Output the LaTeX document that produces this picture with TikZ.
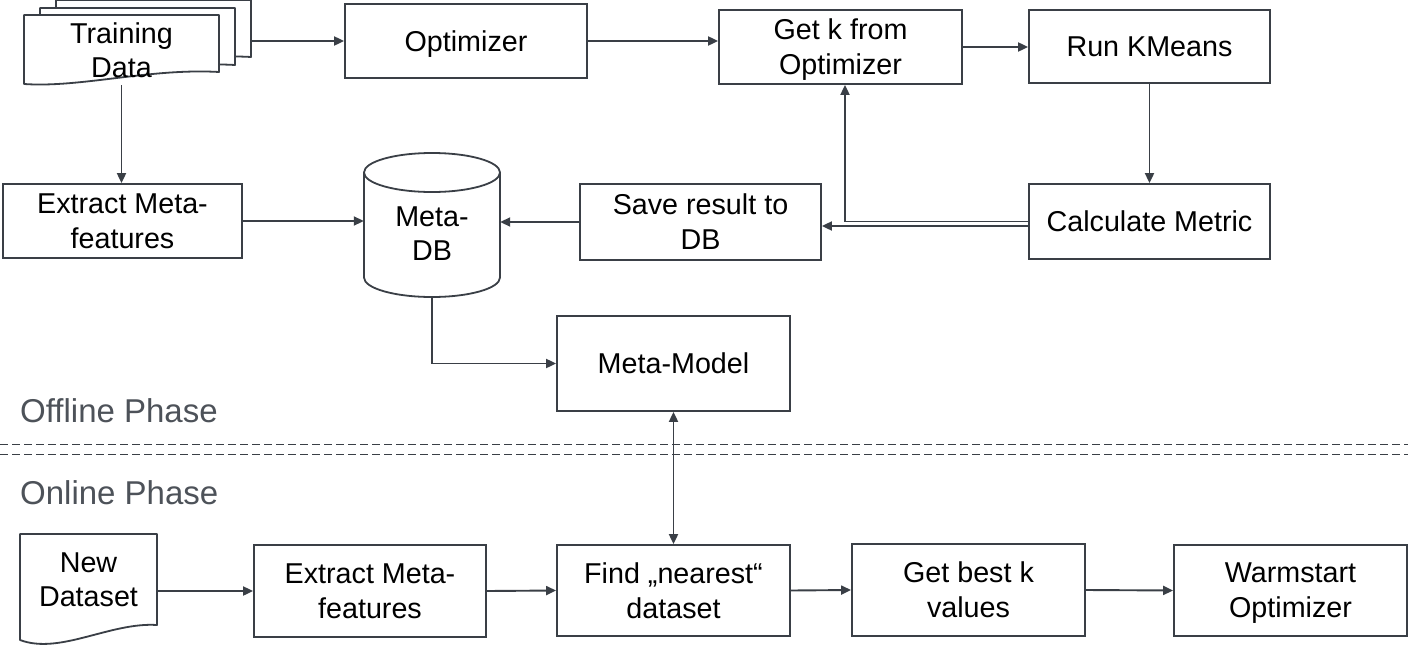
\documentclass[tikz,border=0pt]{standalone}
\usepackage{fontspec}
\setmainfont{Liberation Sans}
\usetikzlibrary{arrows.meta,calc}
\definecolor{ln}{RGB}{58,63,70}
\definecolor{ph}{RGB}{77,82,89}
\begin{document}
\begin{tikzpicture}[x=1pt,y=-1pt,
  box/.style={draw=ln, line width=1.8pt, fill=white, align=center, inner sep=0pt, text depth=0pt,
    font=\fontsize{28.7pt}{35pt}\selectfont},
  lbl/.style={align=center, inner sep=0pt, text depth=0pt, font=\fontsize{28.7pt}{34pt}\selectfont},
  phase/.style={anchor=west, inner sep=0pt, text=ph, font=\fontsize{33pt}{38pt}\selectfont},
  arr/.style={draw=ln, line width=1.9pt, -{Triangle[length=10pt,width=9pt]}},
  dblarr/.style={draw=ln, line width=1.9pt, {Triangle[length=10pt,width=9pt]}-{Triangle[length=10pt,width=9pt]}},
  docshape/.style={draw=ln, line width=1.8pt, fill=white, line join=round},
  sep/.style={draw=ln, line width=1.5pt, dash pattern=on 8pt off 4pt},
]
\useasboundingbox (0,0) rectangle (1408,648);
\fill[white] (0,0) rectangle (1408,648);

% Training data (multi-document)
\foreach \dx/\dy in {32/-15,16/-7,0/0}{
  \path[docshape, shift={(\dx,\dy)}] (24,15) -- (219,15) -- (219,72)
    .. controls (150,68) and (80,88) .. (24,84) -- cycle;
}
\node[lbl, minimum width=195pt, minimum height=70pt] (td) at (121.5,50) {Training\\Data};
\coordinate (tdr) at (251,41);

% New dataset (document)
\path[docshape] (20,534) -- (157,534) -- (157,625)
  .. controls (110,622) and (60,655) .. (20,640) -- cycle;
\node[lbl, minimum width=137pt, minimum height=90pt] (nd) at (88.5,580) {New\\Dataset};

% Meta-DB cylinder
\path[docshape] (364,172.5) -- (364,277.5)
  arc[start angle=180, end angle=360, x radius=68pt, y radius=19.5pt]
  -- (500,172.5)
  arc[start angle=0, end angle=180, x radius=68pt, y radius=19.5pt] -- cycle;
\draw[draw=ln, line width=1.8pt] (364,172.5)
  arc[start angle=180, end angle=360, x radius=68pt, y radius=19.5pt];
\node[lbl, minimum width=136pt, minimum height=126pt] (db) at (432,234) {Meta-\\DB};

% Boxes
\node[box, minimum width=242pt, minimum height=74pt] (opt) at (466,41) {Optimizer};
\node[box, minimum width=243pt, minimum height=74pt] (gk) at (840.5,47) {Get k from\\Optimizer};
\node[box, minimum width=241pt, minimum height=73pt] (rk) at (1149.5,46.5) {Run KMeans};
\node[box, minimum width=241pt, minimum height=75pt] (cm) at (1149.5,221.5) {Calculate Metric};
\node[box, minimum width=241pt, minimum height=76pt] (sr) at (700.5,222) {Save result to\\DB};
\node[box, minimum width=239pt, minimum height=74pt] (ex1) at (122.5,221) {Extract Meta-\\features};
\node[box, minimum width=233pt, minimum height=95pt] (mm) at (673.5,363.5) {Meta-Model};
\node[box, minimum width=232pt, minimum height=92pt] (ex2) at (370,591) {Extract Meta-\\features};
\node[box, minimum width=233pt, minimum height=91pt] (fn) at (673.5,590.5) {Find „nearest“\\dataset};
\node[box, minimum width=233pt, minimum height=92pt] (gb) at (968.5,590) {Get best k\\values};
\node[box, minimum width=233pt, minimum height=91pt] (wo) at (1290.5,590.5) {Warmstart\\Optimizer};

% Phase labels and separator
\node[phase] (off) at (20,411) {Offline Phase};
\node[phase] (on) at (20,493) {Online Phase};
\draw[sep] (0,444.5) -- (1408,444.5);
\draw[sep] (0,454.5) -- (1408,454.5);

% Connectors
\draw[arr] (tdr) -- (tdr -| opt.west);
\draw[arr] (opt.east) -- (opt.east -| gk.west);
\draw[arr] (gk.east) -- (gk.east -| rk.west);
\draw[arr] (rk.south) -- (cm.north);
\coordinate (gkfb) at ([xshift=4.5pt]gk.south);
\draw[arr] (cm.west) -| (gkfb);
\coordinate (cmlow) at ([yshift=-4.5pt]cm.west);
\draw[arr] (cmlow) -- (cmlow -| sr.east);
\draw[arr] (sr.west) -- (sr.west -| db.east);
\draw[arr] (ex1.east) -- (ex1.east -| db.west);
\draw[arr] (td.south) -- (td.south |- ex1.north);
\draw[arr] (db.south) |- (mm.west);
\draw[dblarr] (mm.south) -- (fn.north);
\draw[arr] (nd.east |- ex2.west) -- (ex2.west);
\draw[arr] (ex2.east) -- (fn.west);
\draw[arr] (fn.east) -- (gb.west);
\draw[arr] (gb.east) -- (wo.west);
\end{tikzpicture}
\end{document}
